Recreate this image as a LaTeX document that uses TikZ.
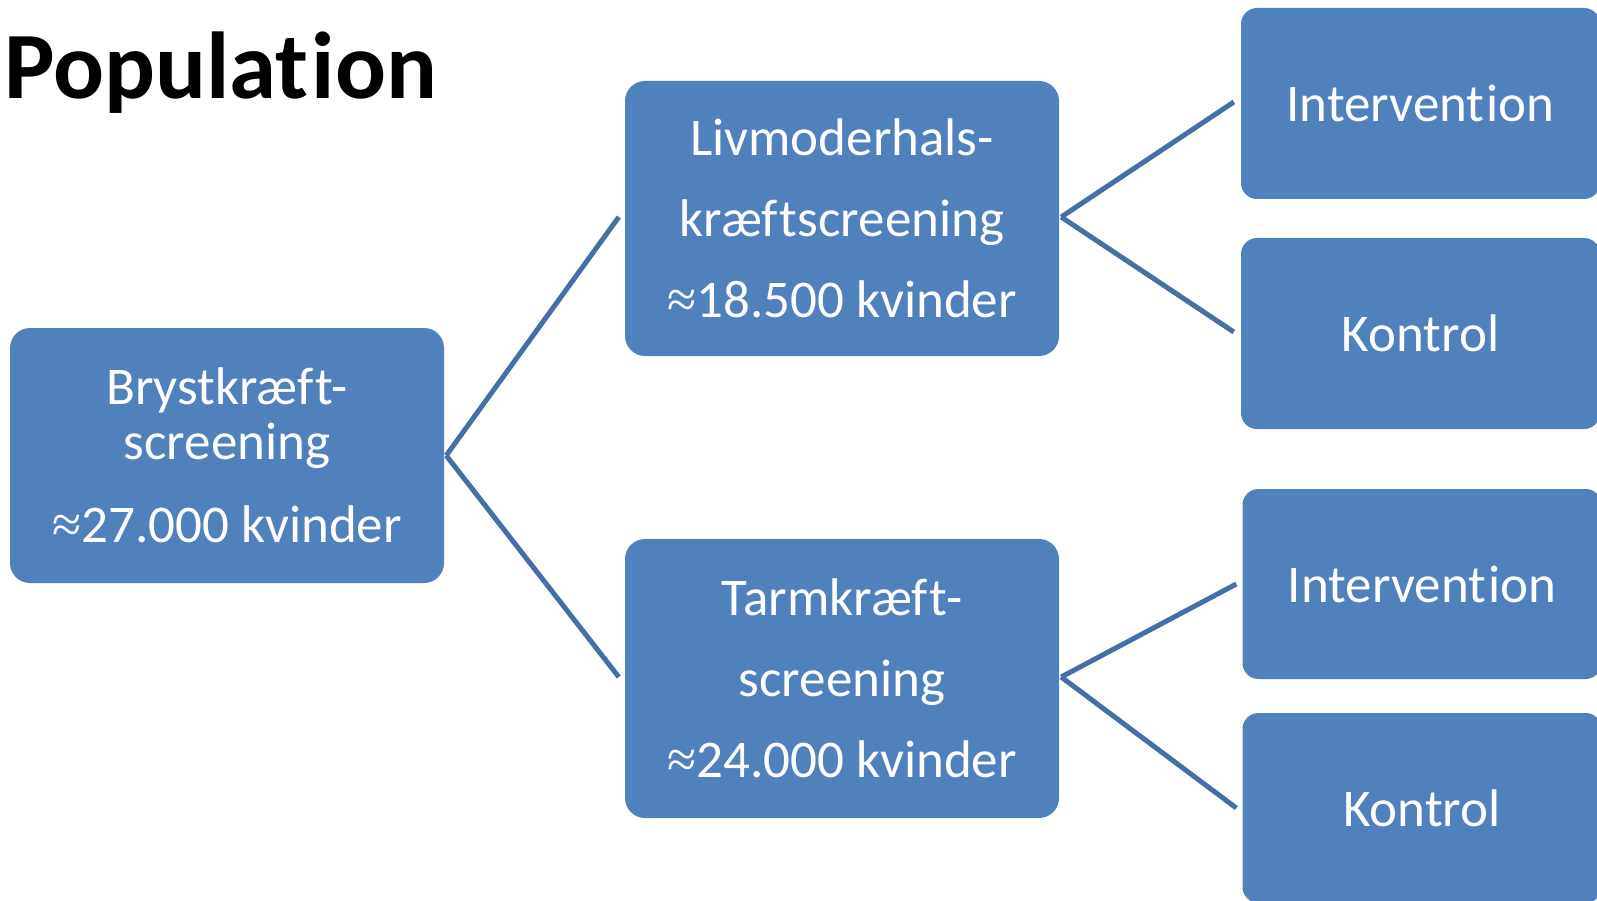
\documentclass[tikz,border=0pt]{standalone}
\usepackage{fontspec}
\setmainfont{Carlito}[RawFeature={-liga;-clig;-calt;-dlig}]
\newfontfamily\apxfont{Liberation Serif}
\newcommand{\apx}{{\apxfont ≈}}
\newcommand{\nl}{\kern2pt }
\usetikzlibrary{calc}
\definecolor{boxblue}{HTML}{4F81BD}
\definecolor{lineblue}{HTML}{4570A6}
\tikzset{
  bigbox/.style={fill=boxblue, draw=none, rounded corners=20pt, text=white,
    align=center, inner sep=0pt, minimum width=434pt, minimum height=270pt,
    font=\fontsize{53}{81}\selectfont},
  smallbox/.style={fill=boxblue, draw=none, rounded corners=16pt, text=white,
    align=center, inner sep=0pt, minimum width=359pt, minimum height=191pt,
    font=\fontsize{53}{64}\selectfont},
  conn/.style={draw=lineblue, line width=5pt}
}
\begin{document}
\begin{tikzpicture}[x=1pt,y=-1pt]
\useasboundingbox (0,0) rectangle (1597,901);
\node[anchor=base west, inner sep=0pt, font=\bfseries\fontsize{95}{95}\selectfont] (title) at (4,99) {Populat\kern3pt ion};
\node[bigbox, minimum height=255pt] (A) at (227,455.5) {Brystkræf\nl t-\\[-26pt]screening\\[2pt]\apx27.000 kvinder};
\node[bigbox, minimum height=275pt] (B) at (842,218.5) {Livmoderhals-\\kræf\nl tscreening\\\apx18.500 kvinder};
\node[bigbox, minimum height=279pt] (C) at (842,678.5) {Tarmkræf\nl t-\\screening\\\apx24.000 kvinder};
\node[smallbox] (D1) at (1420.5,103.5) {Intervent\nl ion};
\node[smallbox] (D2) at (1420.5,333.5) {Kontrol};
\node[smallbox, minimum height=190pt] (E1) at (1422,584) {Intervent\nl ion};
\node[smallbox, minimum height=190pt] (E2) at (1422,808) {Kontrol};
\draw[conn] ($(A.east)+(2,0)$) -- ($(B.west)+(-6,-1.5)$);
\draw[conn] ($(A.east)+(2,0)$) -- ($(C.west)+(-6,-1.5)$);
\draw[conn] ($(B.east)+(2,-1.5)$) -- ($(D1.west)+(-7,-1.5)$);
\draw[conn] ($(B.east)+(2,-1.5)$) -- ($(D2.west)+(-7,-1.5)$);
\draw[conn] ($(C.east)+(2,-1.5)$) -- ($(E1.west)+(-6,0)$);
\draw[conn] ($(C.east)+(2,-1.5)$) -- ($(E2.west)+(-6,0)$);
\end{tikzpicture}
\end{document}
